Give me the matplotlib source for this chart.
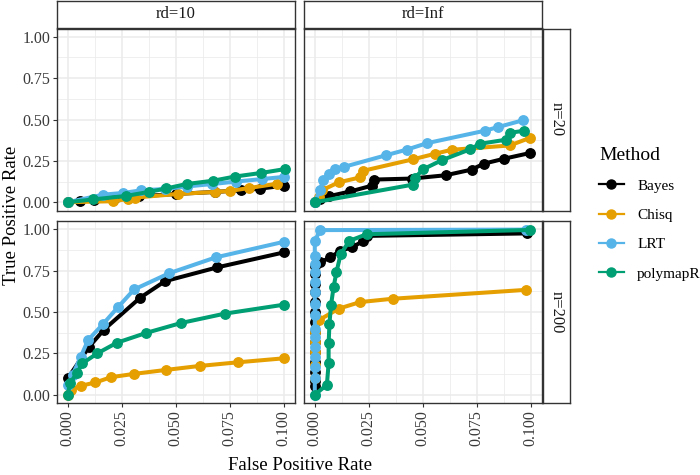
import matplotlib
matplotlib.use("Agg")
import matplotlib.pyplot as plt
from matplotlib.lines import Line2D

plt.rcParams['font.family'] = ['Liberation Serif', 'DejaVu Serif']

METHODS = ["Bayes", "Chisq", "LRT", "polymapR"]
COLORS = {"Bayes": "#000000", "Chisq": "#E69F00", "LRT": "#56B4E9", "polymapR": "#009E73"}
RD_LABELS = ["rd=10", "rd=Inf"]
N_LABELS = ["n=20", "n=200"]
X_TICKS = [0.0, 0.025, 0.05, 0.075, 0.1]
X_TICK_LABELS = ["0.000", "0.025", "0.050", "0.075", "0.100"]
Y_TICKS = [0.0, 0.25, 0.5, 0.75, 1.0]
Y_TICK_LABELS = ["0.00", "0.25", "0.50", "0.75", "1.00"]

# ---- rd=10, n=20 ----
bayes_rd10_n20_fpr = [0, 0.0056, 0.012, 0.022, 0.033, 0.05, 0.068, 0.08, 0.089, 0.1]
bayes_rd10_n20_tpr = [0, 0.006, 0.016, 0.025, 0.035, 0.05, 0.062, 0.072, 0.082, 0.1]
chisq_rd10_n20_fpr = [0, 0.021, 0.028, 0.031, 0.051, 0.068, 0.075, 0.084, 0.097]
chisq_rd10_n20_tpr = [0, 0.006, 0.02, 0.028, 0.05, 0.062, 0.068, 0.086, 0.112]
lrt_rd10_n20_fpr = [0, 0.0165, 0.0256, 0.034, 0.045, 0.055, 0.067, 0.078, 0.09, 0.1]
lrt_rd10_n20_tpr = [0, 0.046, 0.056, 0.072, 0.08, 0.095, 0.11, 0.125, 0.14, 0.153]
poly_rd10_n20_fpr = [0, 0.0118, 0.027, 0.0374, 0.0455, 0.055, 0.0673, 0.0773, 0.0896, 0.1004]
poly_rd10_n20_tpr = [0, 0.017, 0.038, 0.062, 0.083, 0.11, 0.13, 0.155, 0.177, 0.2]

# ---- rd=Inf, n=20 ----
bayes_rdinf_n20_fpr = [0, 0.0025, 0.0064, 0.0164, 0.0264, 0.0276, 0.045, 0.0606, 0.0726, 0.0783, 0.0877, 0.0995]
bayes_rdinf_n20_tpr = [0, 0.022, 0.036, 0.065, 0.1, 0.137, 0.143, 0.163, 0.197, 0.233, 0.263, 0.297]
chisq_rdinf_n20_fpr = [0.002, 0.0033, 0.011, 0.021, 0.0224, 0.0457, 0.0557, 0.0634, 0.0903, 0.0995]
chisq_rdinf_n20_tpr = [0.03, 0.072, 0.12, 0.15, 0.19, 0.26, 0.293, 0.317, 0.343, 0.388]
lrt_rdinf_n20_fpr = [0, 0.0022, 0.004, 0.0064, 0.0092, 0.0133, 0.033, 0.0426, 0.052, 0.0787, 0.0848, 0.0966]
lrt_rdinf_n20_tpr = [0, 0.072, 0.133, 0.173, 0.203, 0.213, 0.284, 0.318, 0.357, 0.432, 0.454, 0.496]
poly_rdinf_n20_fpr = [0, 0.0457, 0.0464, 0.0503, 0.059, 0.072, 0.0764, 0.0886, 0.0905, 0.097]
poly_rdinf_n20_tpr = [0, 0.107, 0.149, 0.2, 0.255, 0.32, 0.353, 0.378, 0.42, 0.432]

# ---- rd=10, n=200 ----
bayes_rd10_n200_fpr = [0, 0.0099, 0.0168, 0.0335, 0.045, 0.0693, 0.1]
bayes_rd10_n200_tpr = [0.1, 0.29, 0.394, 0.586, 0.686, 0.77, 0.86]
chisq_rd10_n200_fpr = [0, 0.0014, 0.006, 0.0128, 0.02, 0.0307, 0.0455, 0.0611, 0.0788, 0.1]
chisq_rd10_n200_tpr = [0, 0.03, 0.054, 0.074, 0.106, 0.126, 0.15, 0.174, 0.196, 0.22]
lrt_rd10_n200_fpr = [0, 0.0022, 0.006, 0.0094, 0.0165, 0.0233, 0.0307, 0.0469, 0.0685, 0.1]
lrt_rd10_n200_tpr = [0.06, 0.12, 0.23, 0.33, 0.43, 0.53, 0.636, 0.734, 0.83, 0.924]
poly_rd10_n200_fpr = [0, 0.001, 0.0042, 0.0068, 0.0137, 0.0227, 0.0364, 0.0526, 0.0727, 0.1]
poly_rd10_n200_tpr = [0, 0.07, 0.13, 0.19, 0.25, 0.314, 0.374, 0.434, 0.49, 0.544]

# ---- rd=Inf, n=200 ----
bayes_rdinf_n200_fpr = [0, 0, 0, 0, 0, 0, 0, 0, 0, 0, 0, 0, 0, 0, 0.0025, 0.0072, 0.0118, 0.0172, 0.0225, 0.024, 0.0985]
bayes_rdinf_n200_tpr = [0.05, 0.08, 0.14, 0.2, 0.26, 0.32, 0.38, 0.44, 0.5, 0.56, 0.62, 0.67, 0.73, 0.78, 0.8, 0.83, 0.87, 0.89, 0.93, 0.96, 0.975]
chisq_rdinf_n200_fpr = [0, 0, 0, 0, 0, 0.0018, 0.011, 0.021, 0.036, 0.098]
chisq_rdinf_n200_tpr = [0.1, 0.18, 0.26, 0.32, 0.38, 0.45, 0.52, 0.56, 0.58, 0.634]
lrt_rdinf_n200_fpr = [0, 0, 0, 0, 0, 0, 0, 0, 0, 0, 0, 0, 0, 0, 0, 0.0025, 0.098]
lrt_rdinf_n200_tpr = [0, 0.1, 0.17, 0.23, 0.29, 0.35, 0.4, 0.48, 0.55, 0.62, 0.68, 0.74, 0.79, 0.84, 0.93, 0.995, 0.998]
poly_rdinf_n200_fpr = [0, 0.0056, 0.0064, 0.0064, 0.0068, 0.0075, 0.0087, 0.01, 0.012, 0.016, 0.024, 0.0999]
poly_rdinf_n200_tpr = [0, 0.06, 0.19, 0.31, 0.43, 0.54, 0.65, 0.74, 0.85, 0.93, 0.97, 0.996]

PANELS = {
    (0, 0): {"Bayes": (bayes_rd10_n20_fpr, bayes_rd10_n20_tpr), "Chisq": (chisq_rd10_n20_fpr, chisq_rd10_n20_tpr),
             "LRT": (lrt_rd10_n20_fpr, lrt_rd10_n20_tpr), "polymapR": (poly_rd10_n20_fpr, poly_rd10_n20_tpr)},
    (0, 1): {"Bayes": (bayes_rdinf_n20_fpr, bayes_rdinf_n20_tpr), "Chisq": (chisq_rdinf_n20_fpr, chisq_rdinf_n20_tpr),
             "LRT": (lrt_rdinf_n20_fpr, lrt_rdinf_n20_tpr), "polymapR": (poly_rdinf_n20_fpr, poly_rdinf_n20_tpr)},
    (1, 0): {"Bayes": (bayes_rd10_n200_fpr, bayes_rd10_n200_tpr), "Chisq": (chisq_rd10_n200_fpr, chisq_rd10_n200_tpr),
             "LRT": (lrt_rd10_n200_fpr, lrt_rd10_n200_tpr), "polymapR": (poly_rd10_n200_fpr, poly_rd10_n200_tpr)},
    (1, 1): {"Bayes": (bayes_rdinf_n200_fpr, bayes_rdinf_n200_tpr), "Chisq": (chisq_rdinf_n200_fpr, chisq_rdinf_n200_tpr),
             "LRT": (lrt_rdinf_n200_fpr, lrt_rdinf_n200_tpr), "polymapR": (poly_rdinf_n200_fpr, poly_rdinf_n200_tpr)},
}

W, H = 700, 475
fig = plt.figure(figsize=(W / 100, H / 100), dpi=100)


def rect(x0, y0, x1, y1):
    return [x0 / W, 1 - y1 / H, (x1 - x0) / W, (y1 - y0) / H]


COL_X = [(57, 294.5), (304, 541.5)]
ROW_Y = [(28.5, 210.5), (221, 403)]
BORDER = "#333333"

for (r, c), series in PANELS.items():
    x0, x1 = COL_X[c]
    y0, y1 = ROW_Y[r]
    ax = fig.add_axes(rect(x0, y0, x1, y1))
    ax.set_xlim(-0.005, 0.105)
    ax.set_ylim(-0.05, 1.05)
    ax.set_xticks(X_TICKS)
    ax.set_yticks(Y_TICKS)
    ax.set_xticks([0.0125, 0.0375, 0.0625, 0.0875], minor=True)
    ax.set_yticks([0.125, 0.375, 0.625, 0.875], minor=True)
    ax.grid(True, which="major", color="#EBEBEB", linewidth=1.1)
    ax.grid(True, which="minor", color="#EBEBEB", linewidth=0.55)
    ax.set_axisbelow(True)
    for sp in ax.spines.values():
        sp.set_color(BORDER)
        sp.set_linewidth(1.0)
    ax.tick_params(which="minor", length=0)
    ax.tick_params(which="major", length=3, width=0.8, color=BORDER, labelsize=11.5,
                   labelcolor="#3A3A3A", pad=2)
    if r == 1:
        ax.set_xticklabels(X_TICK_LABELS, rotation=90)
    else:
        ax.set_xticklabels([])
        ax.tick_params(axis="x", length=0)
    if c == 0:
        ax.set_yticklabels(Y_TICK_LABELS)
    else:
        ax.set_yticklabels([])
        ax.tick_params(axis="y", length=0)
    for m in METHODS:
        fx, ty = series[m]
        ax.plot(fx, ty, color=COLORS[m], linewidth=2.9, marker="o", markersize=6.8,
                solid_capstyle="butt", label=m, clip_on=False)

# strips
for c, lab in enumerate(RD_LABELS):
    x0, x1 = COL_X[c]
    sax = fig.add_axes(rect(x0, 1, x1, 27.5))
    sax.set_xticks([]); sax.set_yticks([])
    for sp in sax.spines.values():
        sp.set_color(BORDER); sp.set_linewidth(1.0)
    sax.text(0.5, 0.5, lab, ha="center", va="center", fontsize=12, color="#1A1A1A",
             transform=sax.transAxes)
for r, lab in enumerate(N_LABELS):
    y0, y1 = ROW_Y[r]
    sax = fig.add_axes(rect(542.5, y0, 570, y1))
    sax.set_xticks([]); sax.set_yticks([])
    for sp in sax.spines.values():
        sp.set_color(BORDER); sp.set_linewidth(1.0)
    sax.text(0.5, 0.5, lab, ha="center", va="center", fontsize=12, color="#1A1A1A",
             rotation=-90, transform=sax.transAxes)

fig.text(12 / W, 1 - 215 / H, "True Positive Rate", rotation=90, ha="center", va="center", fontsize=13.5)
fig.text(300 / W, 1 - 466 / H, "False Positive Rate", ha="center", va="center", fontsize=13.5)

handles = [Line2D([], [], color=COLORS[m], linewidth=1.6, marker="o", markersize=6.5) for m in METHODS]
leg = fig.legend(handles, METHODS, loc="upper left", bbox_to_anchor=(596 / W, 1 - 143.5 / H),
                 frameon=False, title="Method", fontsize=11, title_fontsize=14,
                 handlelength=1.6, handletextpad=0.9, labelspacing=1.02, alignment="left",
                 borderaxespad=0, borderpad=0.2)

fig.savefig("out.png", dpi=100)
